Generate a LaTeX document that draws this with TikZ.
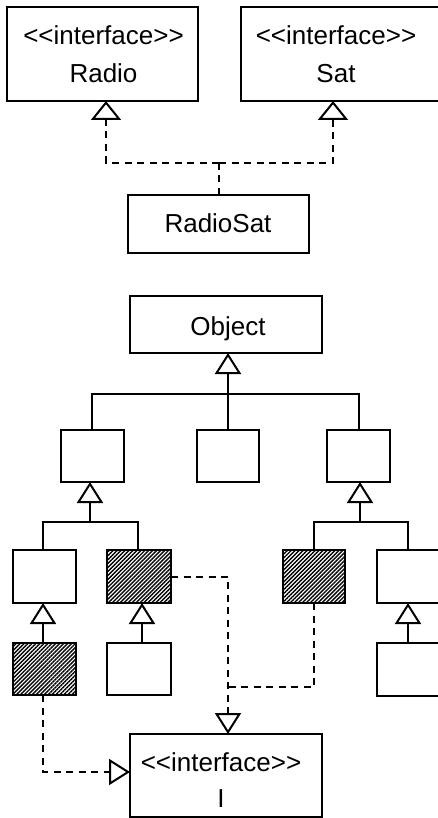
\documentclass[tikz,border=0pt]{standalone}
\usepackage{fontspec}
% a family of its own, so that "<<" and ">>" stay as typed
\newfontfamily\umlfont{Liberation Sans}
\usetikzlibrary{arrows.meta,patterns.meta}

\tikzset{
  box/.style={draw, line width=2pt, inner sep=0pt, outer sep=0pt, fill=white},
  hatched/.style={box, pattern={Lines[angle=45, distance=2.8pt, line width=1.4pt]}},
  txt/.style={inner sep=0pt, anchor=base, font=\umlfont\fontsize{26}{30}\selectfont},
  link/.style={line width=2pt},
  realize/.style={line width=2pt, dash pattern=on 7pt off 5.5pt},
  gentip/.style={-{Triangle[open, length=21pt, width=26pt, line width=2pt]}},
  widetip/.style={-{Triangle[open, length=19pt, width=30pt, line width=2pt]}},
}

\begin{document}
\begin{tikzpicture}[x=1pt, y=-1pt]
  \useasboundingbox (0,0) rectangle (438,818);
  \clip (0,0) rectangle (438,818);

  % --- upper diagram: a class realizing two interfaces ---
  \node[box, minimum width=191pt, minimum height=94pt] (radio) at (102.5,54) {};
  \node[box, minimum width=199pt, minimum height=94pt] (sat) at (340.5,54) {};
  \node[box, minimum width=181pt, minimum height=58pt] (radiosat) at (218.5,224) {};

  \node[txt] (radioSt) at (103.5,45) {<<interface>>};
  \node[txt] (radioNm) at (103.5,83) {Radio};
  \node[txt] (satSt) at (336,45) {<<interface>>};
  \node[txt] (satNm) at (336,83) {Sat};
  \node[txt] (radiosatNm) at (218,233) {RadioSat};

  \coordinate (rsj) at (219,163);
  \draw[realize] (radiosat.north -| rsj) -- (rsj);
  \draw[realize, widetip] (rsj) -| ([xshift=3.5pt]radio.south);
  \draw[realize, widetip] (rsj) -| ([xshift=92pt]sat.south west);

  % --- lower diagram: class hierarchy ---
  \node[box, minimum width=192pt, minimum height=57pt] (object) at (226,324.5) {};
  \node[txt] (objectNm) at (228,335) {Object};

  \node[box, minimum width=63pt, minimum height=52pt] (a1) at (92.5,456) {};
  \node[box, minimum width=62pt, minimum height=52pt] (m1) at (228,456) {};
  \node[box, minimum width=63pt, minimum height=52pt] (r1) at (358.5,456) {};

  \node[box, minimum width=63pt, minimum height=53pt] (a2) at (44.5,576.5) {};
  \node[hatched, minimum width=64pt, minimum height=53pt] (b2) at (139,576.5) {};
  \node[hatched, minimum width=62pt, minimum height=53pt] (c2) at (314,576.5) {};
  \node[box, minimum width=63pt, minimum height=53pt] (d2) at (408.5,576.5) {};

  \node[hatched, minimum width=63pt, minimum height=52pt] (e3) at (44.5,669) {};
  \node[box, minimum width=64pt, minimum height=52pt] (f3) at (139,669) {};
  \node[box, minimum width=63pt, minimum height=53pt] (g3) at (408.5,669.5) {};

  \node[box, minimum width=192pt, minimum height=83pt] (iface) at (226,775.5) {};
  \node[txt] (ifaceSt) at (221,771) {<<interface>>};
  \node[txt] (ifaceNm) at (221,807) {I};

  % inheritance from Object
  \coordinate (oj) at (228,394);
  \draw[link, gentip] (m1.north) -- (object.south -| m1.north);
  \draw[link] (a1.north -| 92,0) |- (oj) -| (r1.north);

  % inheritance below the left and right subclasses
  \coordinate (lj) at (90,522);
  \draw[link, gentip] (lj) -- (a1.south -| lj);
  \draw[link] (a2.north -| 43,0) |- (lj) -| (b2.north -| 138,0);

  \coordinate (rj) at (360,522);
  \draw[link, gentip] (rj) -- (r1.south -| rj);
  \draw[link] (c2.north) |- (rj) -| (d2.north -| 408,0);

  \draw[link, gentip] (e3.north -| 43,0) -- (a2.south -| 43,0);
  \draw[link, gentip] (f3.north -| 142,0) -- (b2.south -| 142,0);
  \draw[link, gentip] (g3.north -| 408,0) -- (d2.south -| 408,0);

  % realizations of interface I
  \coordinate (ij) at (228,687);
  \draw[realize, gentip] (b2.east) -| (iface.north -| ij);
  \draw[realize] (c2.south) |- (ij);
  \draw[realize, gentip] (e3.south -| 43,0) |- ([yshift=3.5pt]iface.west);
\end{tikzpicture}
\end{document}
